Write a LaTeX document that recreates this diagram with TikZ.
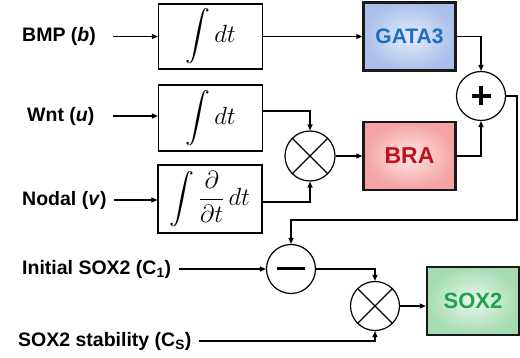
\documentclass[tikz,border=0pt]{standalone}
\usepackage{amsmath}
\usepackage{exscale}
\usepackage{fontspec}
\setmainfont{Liberation Sans}
\usetikzlibrary{arrows.meta}
\definecolor{gataT}{HTML}{1A6FC0}
\definecolor{braT}{HTML}{C0101A}
\definecolor{soxT}{HTML}{1FA14F}
\definecolor{gataI}{HTML}{E4ECF9}
\definecolor{gataO}{HTML}{AAC0EA}
\definecolor{braI}{HTML}{FFE6E6}
\definecolor{braO}{HTML}{F4A2A2}
\definecolor{soxI}{HTML}{E8F7EC}
\definecolor{soxO}{HTML}{A6DCB2}
\tikzset{
  lbl/.style={anchor=west,font=\fontsize{19.5}{22}\selectfont\bfseries,inner sep=0pt},
  intbox/.style={draw,line width=1.2pt,minimum width=104pt,inner sep=0pt,font=\fontsize{23}{26}\selectfont},
  genebox/.style={draw=black!90,line width=2.4pt,minimum width=92pt,minimum height=68pt,inner sep=0pt,shading=radial},
  opc/.style={draw,circle,line width=1.2pt,minimum size=49pt,inner sep=0pt},
  arr/.style={line width=1.1pt,-{Triangle[length=6pt,width=5pt]}},
  ln/.style={line width=1.1pt}
}
\begin{document}
\begin{tikzpicture}[x=1pt,y=-1pt]
\useasboundingbox (0,0) rectangle (520,358);
% integrator boxes
\node[intbox,minimum height=65pt] (int1) at (210.5,36.5) {$\displaystyle\int dt$};
\node[intbox,minimum height=66pt] (int2) at (210.5,118) {$\displaystyle\int dt$};
\node[intbox,minimum height=68pt] (int3) at (210,199) {$\displaystyle\int \frac{\partial}{\partial t}\,dt$};
% gene boxes
\node[genebox,inner color=gataI,outer color=gataO,font=\fontsize{21}{24}\selectfont\bfseries,text=gataT] (gata) at (409.5,36.5) {GATA3};
\node[genebox,inner color=braI,outer color=braO,font=\fontsize{23}{26}\selectfont\bfseries,text=braT] (bra) at (409.5,156) {BRA};
\node[genebox,inner color=soxI,outer color=soxO,font=\fontsize{22}{25}\selectfont\bfseries,text=soxT] (sox) at (473,301) {SOX2};
% operator circles
\node[opc] (plus) at (481,96) {};
\node[opc,minimum size=50pt] (mul1) at (310,156) {};
\node[opc] (minus) at (291,269) {};
\node[opc] (mul2) at (375,306) {};
\draw[line width=3.5pt] ([xshift=-9.5pt]plus.center) -- ([xshift=9.5pt]plus.center);
\draw[line width=3.5pt] ([yshift=-9.5pt]plus.center) -- ([yshift=9.5pt]plus.center);
\draw[line width=3pt] ([xshift=-14pt]minus.center) -- ([xshift=14pt]minus.center);
\draw[line width=1.2pt] (mul1.45) -- (mul1.225) (mul1.135) -- (mul1.315);
\draw[line width=1.2pt] (mul2.45) -- (mul2.225) (mul2.135) -- (mul2.315);
% labels
\node[lbl] (bmp) at (22,36.5) {BMP (\textit{b})};
\node[lbl] (wnt) at (27,116) {Wnt (\textit{u})};
\node[lbl] (nodal) at (22,200) {Nodal (\textit{v})};
\node[lbl] (init) at (22,269) {Initial SOX2 (C\textsubscript{1})};
\node[lbl] (stab) at (18,341) {SOX2 stability (C\textsubscript{S})};
% connectors
\draw[arr,shorten <=17pt] (bmp.east) -- (bmp.east -| int1.west);
\draw[arr,shorten <=18pt] (wnt.east) -- (wnt.east -| int2.west);
\draw[arr,shorten <=7pt] (nodal.east) -- (nodal.east -| int3.west);
\draw[arr,shorten <=8pt] (init.east) -- (init.east -| minus.west);
\draw[arr] (int1.east) -- (int1.east -| gata.west);
\draw[arr] (gata.east) -| (plus.north);
\draw[arr] (bra.east) -| (plus.south);
\draw[arr] ([yshift=7pt]int2.east) -| (mul1.north);
\draw[arr] ([yshift=-3pt]int3.east) -| (mul1.south);
\draw[arr] (mul1.east) -- (mul1.east -| bra.west);
\coordinate (fb) at (517,220);
\draw[arr] (plus.east) -| (fb) -| (minus.north);
\draw[arr] (minus.east) -| (mul2.north);
\draw[arr,shorten <=7pt] (stab.east) -| (mul2.south);
\draw[arr] (mul2.east) -- (mul2.east -| sox.west);
\end{tikzpicture}
\end{document}
